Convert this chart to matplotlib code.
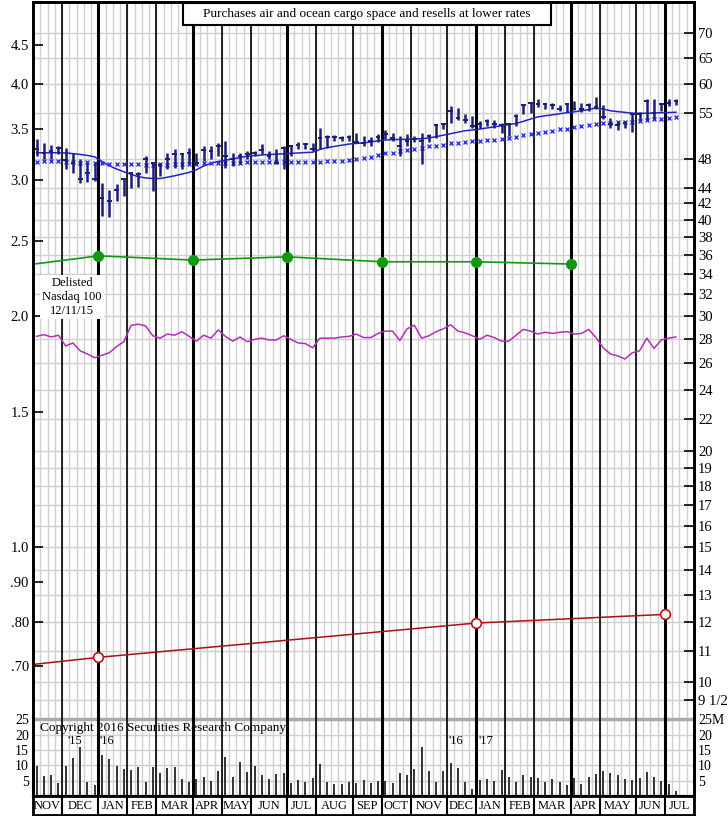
import numpy as np
import matplotlib.pyplot as plt
from matplotlib.patches import Rectangle
from matplotlib.ticker import NullLocator

plt.rcParams["font.family"] = ["Liberation Serif", "DejaVu Serif"]

# month strip (weeks per month on the chart)
months = ["NOV", "DEC", "JAN", "FEB", "MAR", "APR", "MAY", "JUN", "JUL", "AUG", "SEP",
          "OCT", "NOV", "DEC", "JAN", "FEB", "MAR", "APR", "MAY", "JUN", "JUL"]
month_weeks = [4, 5, 4, 4, 5, 4, 4, 5, 4, 5, 4, 4, 5, 4, 4, 4, 5, 4, 5, 4, 4]

# weekly price bars (right scale, dollars)
high = [50.88, 50.27, 49.97, 49.87, 49.63, 48.89, 47.92, 47.45, 47.45, 44.69, 43.71, 44.46, 45.22, 46.04, 46.12,
        48.4, 47.45, 47.45, 48.79, 49.38, 48.79, 49.63, 48.89, 49.87, 49.87, 50.38, 50.62, 48.89, 48.89, 49.13,
        49.13, 50.12, 49.13, 49.38, 49.87, 50.02, 50.47, 50.27, 50.38, 52.7, 51.49, 51.49, 51.39, 51.49, 51.92,
        51.39, 51.23, 51.65, 52.27, 51.92, 51.39, 51.65, 51.39, 51.92, 51.65, 53.22, 53.49, 56.22, 55.94, 54.84,
        54.56, 53.7, 54.13, 53.91, 53.38, 53.49, 54.84, 56.5, 56.78, 57.35, 56.78, 56.78, 56.33, 56.78, 57.06,
        56.67, 56.67, 57.82, 56.34, 54.3, 53.75, 53.75, 55.11, 55.21, 57.35, 57.47, 56.67, 57.35, 57.35]
low = [48.4, 48.02, 48.02, 48.64, 46.5, 46.04, 44.69, 44.77, 44.91, 40.45, 40.37, 42.3, 42.93, 44.02, 44.1,
       46.04, 43.58, 45.58, 46.5, 46.74, 46.5, 47.45, 47.07, 47.68, 48.02, 48.4, 46.74, 46.97, 47.21, 48.02,
       48.4, 48.64, 47.92, 47.21, 46.5, 48.4, 49.38, 49.38, 49.13, 49.38, 49.63, 50.62, 50.62, 50.62, 50.38,
       49.87, 49.87, 50.47, 50.88, 50.62, 48.4, 49.87, 50.47, 47.21, 50.47, 51.14, 52.43, 53.49, 53.91, 53.49,
       52.7, 52.7, 52.96, 52.7, 51.92, 51.39, 52.96, 54.84, 55.11, 56.12, 55.66, 55.66, 55.38, 55.21, 55.54,
       55.21, 55.38, 55.66, 54.02, 52.7, 52.32, 52.7, 52.01, 53.91, 53.91, 54.13, 55.38, 56.25, 56.34]
close = [49.38, 48.79, 49.13, 49.53, 47.82, 47.45, 45.13, 46.04, 45.13, 42.73, 42.3, 43.67, 45.13, 45.95, 45.81,
         48.02, 47.45, 47.07, 48.02, 48.64, 48.64, 48.89, 47.35, 49.28, 49.13, 49.87, 48.4, 47.92, 48.4, 48.64,
         48.79, 49.28, 48.4, 47.45, 49.63, 49.87, 49.97, 50.12, 49.38, 51.14, 51.29, 51.29, 51.14, 51.29, 50.53,
         50.27, 50.62, 51.29, 51.65, 51.14, 49.87, 50.62, 50.88, 50.62, 51.39, 53.06, 53.22, 55.38, 54.3, 53.91,
         52.96, 53.22, 53.75, 53.22, 53.06, 53.22, 54.56, 56.34, 56.67, 56.5, 56.5, 56.34, 55.77, 56.5, 55.77,
         55.66, 56.34, 56.12, 54.46, 53.22, 53.06, 53.38, 54.84, 54.84, 57.06, 55.11, 56.5, 56.78, 57.06]

# moving averages (solid line and x marks)
ma_short = [48.89, 48.89, 48.89, 48.89, 48.86, 48.76, 48.64, 48.5, 48.28, 47.63, 47.02, 46.57, 46.18, 45.84, 45.5,
            45.34, 45.26, 45.26, 45.43, 45.63, 45.86, 46.1, 46.46, 46.99, 47.37, 47.63, 47.81, 48.0, 48.19, 48.38,
            48.47, 48.56, 48.64, 48.68, 48.74, 48.8, 48.86, 48.92, 48.96, 49.38, 49.65, 49.83, 50.0, 50.18, 50.27,
            50.36, 50.5, 50.66, 50.79, 50.84, 50.88, 50.91, 50.94, 50.99, 51.1, 51.3, 51.53, 51.76, 52.0, 52.22,
            52.34, 52.48, 52.66, 52.83, 53.02, 53.2, 53.37, 53.72, 54.08, 54.43, 54.61, 54.77, 54.95, 55.12, 55.26,
            55.43, 55.65, 55.9, 55.73, 55.44, 55.3, 55.18, 55.05, 55.02, 55.03, 55.07, 55.12, 55.15, 55.2]
ma_long = [47.53, 47.67, 47.67, 47.67, 47.59, 47.53, 47.45, 47.53, 47.45, 47.35, 47.31, 47.21, 47.21, 47.21, 47.21,
           47.11, 47.11, 47.21, 47.11, 47.21, 47.21, 47.21, 47.31, 47.35, 47.45, 47.45, 47.45, 47.45, 47.45, 47.53,
           47.53, 47.53, 47.53, 47.53, 47.53, 47.53, 47.53, 47.53, 47.53, 47.53, 47.63, 47.67, 47.73, 47.82, 47.92,
           48.17, 48.31, 48.5, 48.79, 48.89, 49.13, 49.28, 49.38, 49.63, 49.87, 49.87, 50.02, 50.27, 50.27, 50.47,
           50.62, 50.62, 50.77, 50.83, 50.99, 51.14, 51.29, 51.49, 51.65, 51.81, 52.0, 52.16, 52.43, 52.54, 52.79,
           52.95, 53.06, 53.33, 53.38, 53.49, 53.59, 53.65, 53.65, 53.81, 53.91, 54.02, 54.13, 54.23, 54.46]

# relative strength line (right scale)
rel_strength = [28.2, 28.35, 28.15, 28.3, 27.4, 27.65, 27.0, 26.75, 26.45, 26.65, 26.85, 27.35, 27.75, 29.15, 29.25,
                29.1, 28.25, 28.05, 28.4, 28.3, 28.6, 28.2, 27.8, 28.3, 28.05, 28.75, 28.2, 27.8, 28.15, 27.75,
                27.95, 28.05, 27.9, 27.9, 28.25, 27.95, 27.65, 27.6, 27.25, 28.05, 28.05, 28.05, 28.15, 28.2, 28.4,
                28.1, 28.1, 28.45, 28.65, 28.65, 27.85, 28.85, 29.15, 28.05, 28.25, 28.6, 28.85, 29.2, 28.65, 28.5,
                28.25, 27.95, 28.3, 28.1, 27.8, 27.8, 28.3, 28.8, 28.65, 28.4, 28.55, 28.45, 28.55, 28.6, 28.4,
                28.45, 28.8, 28.1, 27.25, 26.75, 26.6, 26.35, 26.85, 27.0, 28.05, 27.2, 27.9, 28.05, 28.15]

# weekly volume, millions of shares
volume = [9.8, 6.5, 6.8, 4.1, 9.8, 12.3, 16.1, 4.6, 3.5, 13.3, 12.2, 9.8, 8.8, 8.5, 9.4, 4.6, 9.4, 7.4, 9.0, 9.4,
          5.4, 4.7, 5.4, 6.3, 5.0, 8.2, 12.6, 6.2, 11.2, 7.9,
          9.8, 6.9, 5.4, 7.1, 7.5, 4.1, 5.2, 4.6, 5.8, 10.4, 4.5, 4.0, 3.8, 4.7, 4.2, 5.2, 4.2, 4.8, 4.9, 4.3,
          7.4, 6.9, 8.9, 15.9, 8.1, 4.6, 8.3, 10.8, 9.2, 4.6, 2.4,
          5.2, 5.4, 4.9, 8.5, 6.3, 4.6, 6.9, 6.1, 5.8, 4.6, 5.4, 4.5, 3.6, 5.8, 3.9, 6.1, 7.2, 8.2, 7.4, 6.8,
          5.7, 5.2, 5.9, 7.9, 6.1, 4.9, 3.9, 1.6]

# earnings (green) and dividends (red), left scale, at week index
eps_weeks = [0, 9, 22, 35, 48, 61, 74]
eps = [2.334, 2.393, 2.363, 2.386, 2.351, 2.351, 2.335]
div_weeks = [0, 9, 61, 87]
div = [0.7035, 0.7186, 0.7964, 0.8173]

ratio = 15  # price scale = 15 x earnings scale

left_ticks = [4.5, 4.0, 3.5, 3.0, 2.5, 2.0, 1.5, 1.0, 0.90, 0.80, 0.70]
left_labels = ["4.5", "4.0", "3.5", "3.0", "2.5", "2.0", "1.5", "1.0", ".90", ".80", ".70"]
right_ticks = [70, 65, 60, 55, 48, 44, 42, 40, 38, 36, 34, 32, 30, 28, 26, 24, 22, 20, 19, 18, 17, 16,
               15, 14, 13, 12, 11, 10, 9.5]
right_labels = [str(v) for v in right_ticks[:-1]] + ["9 1/2"]
vol_ticks = [5, 10, 15, 20, 25]

title = "Purchases air and ocean cargo space and resells at lower rates"

W, H = 728, 816
def box(x0, y0, x1, y1):
    return [x0 / W, 1 - y1 / H, (x1 - x0) / W, (y1 - y0) / H]

grid_c = "#cfcfcf"
navy = "#1c1c7a"
n_weeks = 91
x = np.arange(len(close)) + 0.5
bounds = np.cumsum([0] + month_weeks)
quarters = {"JAN", "APR", "JUL", "OCT"}

fig = plt.figure(figsize=(W / 100, H / 100), dpi=100)
ax = fig.add_axes(box(33, 2, 694, 717))
axv = fig.add_axes(box(33, 717, 694, 796))
axm = fig.add_axes(box(33, 796, 694, 815))

for a in (ax, axv):
    a.set_xlim(0, n_weeks)
    a.set_xticks([])
    for w in range(1, n_weeks):
        a.axvline(w, color=grid_c, lw=1.0, zorder=0)
    for b, m in zip(bounds[1:-1], months[1:]):
        a.axvline(b, color="black", lw=2.2 if m in quarters else 1.2, zorder=1)

# ---- price panel
ax.set_yscale("log")
ylim = (9.015, 76.8)
ax.set_ylim(*ylim)
for v in right_ticks:
    ax.axhline(v, color=grid_c, lw=1.0, zorder=0)

ax.vlines(x, low, high, color=navy, lw=1.8, zorder=4)
ax.hlines(close, x - 0.32, x + 0.32, color=navy, lw=1.4, zorder=4)
ax.plot(x, ma_short, color="#2323c8", lw=1.1, zorder=3)
ax.plot(x, ma_long, ls="none", marker="x", ms=3.2, mew=1.0, color="#3333ee", zorder=3)
ax.plot(x, rel_strength, color="#b52fb5", lw=1.1, zorder=3)

eps_p = [v * ratio for v in eps]
ax.plot(eps_weeks, eps_p, color="#119911", lw=1.2, zorder=3)
ax.plot(eps_weeks[1:], eps_p[1:], ls="none", marker="o", ms=7, color="#119911", zorder=4)
div_p = [v * ratio for v in div]
ax.plot(div_weeks, div_p, color="#aa1111", lw=1.1, zorder=3)
ax.plot(div_weeks[1:], div_p[1:], ls="none", marker="o", ms=7, mfc="white", mec="#bb1111",
        mew=1.2, zorder=4)

ax.yaxis.set_minor_locator(NullLocator())
ax.set_yticks([v * ratio for v in left_ticks])
ax.set_yticklabels(left_labels)
ax.tick_params(axis="y", direction="in", length=7, width=1.2, labelsize=10.5, pad=3)

axr = ax.twinx()
axr.set_yscale("log")
axr.set_ylim(*ylim)
axr.yaxis.set_minor_locator(NullLocator())
axr.set_yticks(right_ticks)
axr.set_yticklabels(right_labels)
axr.tick_params(axis="y", direction="in", length=7, width=1.2, labelsize=10.5, pad=3)
for a in (ax, axr):
    a.spines["bottom"].set_visible(False)
    for s in ("left", "right", "top"):
        a.spines[s].set_linewidth(2)

# ---- volume panel
axv.set_ylim(0, 25.8)
for v in vol_ticks[:-1]:
    axv.axhline(v, color=grid_c, lw=1.0, zorder=0)
axv.axhline(25, color="#aaaaaa", lw=2.5, zorder=0)
axv.vlines(x, 0, volume, color="#333333", lw=1.4, zorder=3)
axv.set_yticks(vol_ticks)
axv.set_yticklabels([str(v) for v in vol_ticks])
axv.tick_params(axis="y", length=0, labelsize=10, pad=3)
axv2 = axv.twinx()
axv2.set_ylim(0, 25.8)
axv2.set_yticks(vol_ticks)
axv2.set_yticklabels([str(v) for v in vol_ticks[:-1]] + ["25M"])
axv2.tick_params(axis="y", length=0, labelsize=10, pad=3)
for a in (axv, axv2):
    a.spines["top"].set_visible(False)
    a.spines["bottom"].set_linewidth(1.5)
    a.spines["left"].set_linewidth(2)
    a.spines["right"].set_linewidth(2)
axv.text(40 / W, 1 - 727.5 / H, "Copyright 2016 Securities Research Company", transform=fig.transFigure,
         ha="left", va="center", fontsize=9.5, zorder=0.5)
for label, px in [("'15", 75), ("'16", 107), ("'16", 456), ("'17", 486)]:
    axv.text(px / W, 1 - 741 / H, label, transform=fig.transFigure, ha="center", va="center",
             fontsize=9, zorder=0.5)

# ---- month strip
axm.set_xlim(0, n_weeks)
axm.set_ylim(0, 1)
axm.set_xticks([])
axm.set_yticks([])
for b in bounds[1:-1]:
    axm.axvline(b, color="black", lw=1.5)
for m, b0, b1 in zip(months, bounds[:-1], list(bounds[1:-1]) + [n_weeks]):
    axm.text((b0 + b1) / 2, 0.47, m, ha="center", va="center", fontsize=9)
for s in axm.spines.values():
    s.set_linewidth(2)

# ---- title box and note
fig.add_artist(Rectangle((183 / W, 1 - 25 / H), 368 / W, 22 / H, transform=fig.transFigure,
                         fc="white", ec="black", lw=1.5, zorder=5))
fig.text(367 / W, 1 - 14.5 / H, title, ha="center", va="center", fontsize=9.5, zorder=6)
fig.text(72 / W, 1 - 297 / H, "Delisted\nNasdaq 100\n12/11/15", ha="center", va="center",
         fontsize=9, linespacing=1.2, bbox=dict(fc="white", ec="none", pad=1.5))

fig.savefig("out.png", dpi=100)
